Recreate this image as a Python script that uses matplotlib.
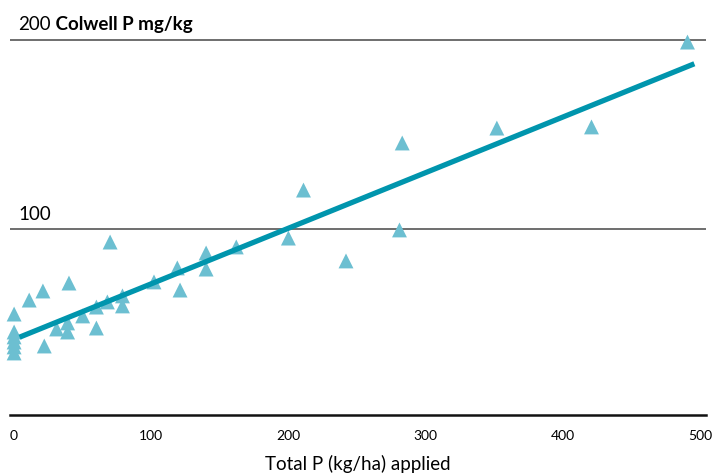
import matplotlib

matplotlib.use("Agg")
import matplotlib.pyplot as plt
import numpy as np

plt.rcParams["font.family"] = ["Lato", "DejaVu Sans"]

# ---- data ----
p_applied = [0, 0, 0, 0, 0, 0, 11, 21, 40, 70, 22, 31, 39, 39, 50, 60, 60, 68,
             79, 79, 102, 121, 119, 140, 140, 162, 200, 211, 242, 281, 283,
             352, 421, 491]
colwell_p = [55.0, 45.5, 42.9, 40.2, 37.6, 34.4, 62.4, 67.2, 71.4, 93.1, 38.1,
             47.1, 50.3, 45.5, 54.0, 47.6, 58.7, 61.4, 64.6, 59.3, 72.0, 67.7,
             79.4, 87.3, 78.8, 90.5, 95.2, 120.6, 83.1, 99.5, 145.5, 153.4,
             154.0, 198.9]
fit_intercept, fit_slope = 41.6, 0.294
fit_range = [4, 496]
x_ticks = [0, 100, 200, 300, 400, 500]
grid_levels = [100, 200]

POINT = "#6cbfd1"
LINE = "#0095ad"
GRID = "#555555"

fig = plt.figure(figsize=(7.14, 4.75), dpi=100)
ax = fig.add_axes([10 / 714, 57 / 475, 696 / 714, 0.8356])

for lvl in grid_levels:
    ax.axhline(lvl, color=GRID, lw=1.2, zorder=1)

ax.scatter(p_applied, colwell_p, marker="^", s=115, color=POINT,
           edgecolors="none", zorder=2, clip_on=False)

fx = np.array(fit_range)
ax.plot(fx, fit_intercept + fit_slope * fx, color=LINE, lw=3.8,
        solid_capstyle="butt", zorder=3)

ax.set_xlim(-3, 504.5)
ax.set_ylim(0, 210)
ax.set_xticks(x_ticks)
ax.set_xticklabels([str(t) for t in x_ticks], fontsize=13)
ax.tick_params(axis="x", length=0, pad=11)
ax.set_yticks([])
for s in ["top", "right", "left"]:
    ax.spines[s].set_visible(False)
ax.spines["bottom"].set_linewidth(1.8)
ax.spines["bottom"].set_color("#111111")
ax.spines["bottom"].set_position(("data", 1.5))

ax.set_xlabel("Total P (kg/ha) applied", fontsize=13.5, labelpad=9)

t200 = ax.text(3, 203.5, "200", fontsize=13.5, va="bottom", ha="left")
ax.annotate(" Colwell P mg/kg", xy=(1, 0), xycoords=t200, va="bottom",
            ha="left", fontsize=13.5, fontweight="bold")
ax.text(3, 103, "100", fontsize=13.5, va="bottom", ha="left")

fig.savefig("out.png", dpi=100)
